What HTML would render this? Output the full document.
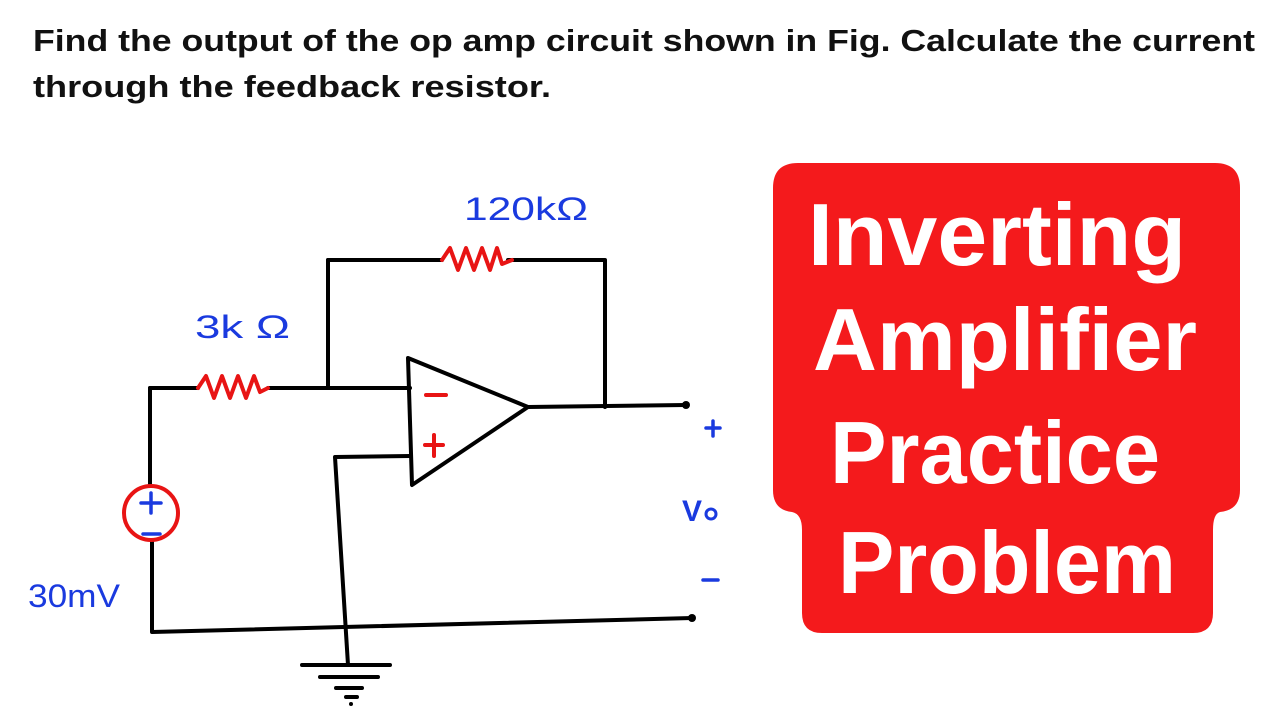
<!DOCTYPE html>
<html><head><meta charset="utf-8"><style>
html,body{margin:0;padding:0;background:#fff;}
svg{display:block;}
</style></head><body>
<svg width="1280" height="720" viewBox="0 0 1280 720" xmlns="http://www.w3.org/2000/svg">
<rect width="1280" height="720" fill="#fff"/>
<g font-family="Liberation Sans, sans-serif" font-weight="bold" font-size="31" fill="#111">
<text x="33" y="51" textLength="1222" lengthAdjust="spacingAndGlyphs">Find the output of the op amp circuit shown in Fig. Calculate the current</text>
<text x="33" y="97" textLength="518" lengthAdjust="spacingAndGlyphs">through the feedback resistor.</text>
</g>
<g stroke="#000" stroke-width="4" fill="none" stroke-linecap="round" stroke-linejoin="round">
<path d="M328 260 H442 M508 260 H605 V407"/>
<path d="M328 260 V386"/>
<path d="M150 388 H198 M268 388 H410"/>
<path d="M150 388 V486 M152 540 V632 L692 618"/>
<path d="M408 358 L528 407 L412 485 Z"/>
<path d="M528 407 L686 405"/>
<path d="M410 456 L335 457 L348 665"/>
<path d="M302 665 H390 M320 677 H378 M336 688 H362 M346 697 H357"/>
</g>
<circle cx="686" cy="405" r="4" fill="#000"/>
<circle cx="692" cy="618" r="4" fill="#000"/>
<circle cx="351" cy="704" r="2" fill="#000"/>
<g stroke="#e81414" stroke-width="4" fill="none" stroke-linejoin="round" stroke-linecap="round">
<path d="M442 260 L450 248 L458 270 L466 248 L474 270 L482 248 L490 270 L497 248 L502 264 L512 260"/>
<path d="M198 388 L206 376 L214 398 L222 376 L230 398 L238 376 L246 398 L254 376 L260 392 L268 388"/>
<circle cx="151" cy="513" r="27"/>
<path d="M426 395 H446 M425 445 H443 M434 435 V456"/>
</g>
<g stroke="#1a3adf" stroke-width="3.5" fill="none" stroke-linecap="round">
<path d="M141 503 H161 M151 493 V513 M143 534 H160"/>
<path d="M706 428 H720 M713 421 V436 M703 580 H718"/>
</g>
<g font-family="Liberation Sans, sans-serif" fill="#1a3adf" font-size="32">
<text x="464" y="220" textLength="124" lengthAdjust="spacingAndGlyphs">120kΩ</text>
<text x="195" y="338" textLength="95" lengthAdjust="spacingAndGlyphs">3k Ω</text>
<text x="28" y="607" textLength="92" lengthAdjust="spacingAndGlyphs">30mV</text>
<text x="682" y="521" font-weight="bold" font-size="30">V</text>
<circle cx="711" cy="514" r="5" fill="none" stroke="#1a3adf" stroke-width="3"/>
</g>
<path d="M798 163 H1215 Q1240 163 1240 188 V490 Q1240 510 1220 512 Q1213 514 1213 530 V613 Q1213 633 1193 633 H822 Q802 633 802 613 V530 Q802 514 792 512 Q773 510 773 490 V188 Q773 163 798 163 Z" fill="#f41a1c"/>
<g font-family="Liberation Sans, sans-serif" font-weight="bold" font-size="88" fill="#fff">
<text x="808" y="265" textLength="378" lengthAdjust="spacingAndGlyphs">Inverting</text>
<text x="813" y="370" textLength="384" lengthAdjust="spacingAndGlyphs">Amplifier</text>
<text x="830" y="483" textLength="330" lengthAdjust="spacingAndGlyphs">Practice</text>
<text x="838" y="593" textLength="338" lengthAdjust="spacingAndGlyphs">Problem</text>
</g>
</svg>
</body></html>
